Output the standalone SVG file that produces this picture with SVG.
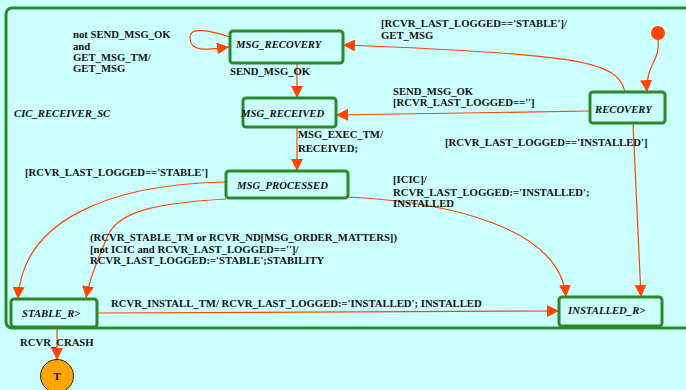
<svg xmlns="http://www.w3.org/2000/svg" width="686" height="390" viewBox="0 0 686 390">
<defs>
<style>
.bg{fill:#ccffff}
.frame{fill:none;stroke:#2a8a2a;stroke-width:3}
.st{fill:#ccffff;stroke:#2a8a2a;stroke-width:3}
.c{fill:none;stroke:#ff4500;stroke-width:1.2}
.t{font-family:"Liberation Serif","Times New Roman",serif;font-size:10.7px;font-weight:bold;fill:#111}
.n{font-family:"Liberation Serif","Times New Roman",serif;font-size:10.7px;font-weight:bold;font-style:italic;fill:#111}
</style>
<marker id="ah" markerWidth="12" markerHeight="12" refX="12" refY="6" orient="auto" markerUnits="userSpaceOnUse">
<path d="M0,0 L12,6 L0,12 z" fill="#ff4500"/>
</marker>
</defs>
<rect class="bg" x="0" y="0" width="686" height="390"/>
<rect class="frame" x="6" y="8" width="700" height="320" rx="6"/>
<text class="n" x="14" y="117">CIC_RECEIVER_SC</text>

<g id="connectors">
<path class="c" marker-end="url(#ah)" d="M230,37 C205,29 190,27 190,38 C190,52 205,50 229,47"/>
<path class="c" marker-end="url(#ah)" d="M297,63 L297,98"/>
<path class="c" marker-end="url(#ah)" d="M625,92 C618,62 585,54 343,45"/>
<path class="c" marker-end="url(#ah)" d="M590,111 L336,115"/>
<path class="c" marker-end="url(#ah)" d="M658,40 C661,60 645,66 647,92"/>
<path class="c" marker-end="url(#ah)" d="M633,123 L641,297"/>
<path class="c" marker-end="url(#ah)" d="M297,127 L297,171"/>
<path class="c" marker-end="url(#ah)" d="M226,182 C110,184 22,220 18,299"/>
<path class="c" marker-end="url(#ah)" d="M226,199 C160,203 120,210 108,235 C100,255 90,275 86,298"/>
<path class="c" marker-end="url(#ah)" d="M347,197 C450,202 560,228 566,297"/>
<path class="c" marker-end="url(#ah)" d="M97,313 L559,311"/>
<path class="c" marker-end="url(#ah)" d="M57,327 L57,360"/>
<text class="t" x="73" y="38">not SEND_MSG_OK</text>
<text class="t" x="73" y="50">and</text>
<text class="t" x="73" y="61">GET_MSG_TM/</text>
<text class="t" x="73" y="72">GET_MSG</text>
<text class="t" x="230" y="75">SEND_MSG_OK</text>
<text class="t" x="381" y="27">[RCVR_LAST_LOGGED=='STABLE']/</text>
<text class="t" x="381" y="39">GET_MSG</text>
<text class="t" x="393" y="95">SEND_MSG_OK</text>
<text class="t" x="393" y="106">[RCVR_LAST_LOGGED=='']</text>
<text class="t" x="445" y="146">[RCVR_LAST_LOGGED=='INSTALLED']</text>
<text class="t" x="298" y="138">MSG_EXEC_TM/</text>
<text class="t" x="298" y="152">RECEIVED;</text>
<text class="t" x="25" y="176">[RCVR_LAST_LOGGED=='STABLE']</text>
<text class="t" x="393" y="183">[ICIC]/</text>
<text class="t" x="393" y="196">RCVR_LAST_LOGGED:='INSTALLED';</text>
<text class="t" x="393" y="207">INSTALLED</text>
<text class="t" x="90" y="241">(RCVR_STABLE_TM or RCVR_ND[MSG_ORDER_MATTERS])</text>
<text class="t" x="90" y="253">[not ICIC and RCVR_LAST_LOGGED=='']/</text>
<text class="t" x="90" y="264">RCVR_LAST_LOGGED:='STABLE';STABILITY</text>
<text class="t" x="111" y="307">RCVR_INSTALL_TM/ RCVR_LAST_LOGGED:='INSTALLED'; INSTALLED</text>
<text class="t" x="20" y="346">RCVR_CRASH</text>
</g>

<g id="init"><circle cx="658" cy="33" r="7" fill="#ff4500"/></g>
<g id="MSG_RECOVERY"><rect class="st" x="230" y="31" width="113" height="32" rx="3"/><text class="n" x="236" y="48">MSG_RECOVERY</text></g>
<g id="MSG_RECEIVED"><rect class="st" x="243" y="98" width="93" height="29" rx="3"/><text class="n" x="241" y="117">MSG_RECEIVED</text></g>
<g id="RECOVERY"><rect class="st" x="590" y="92" width="75" height="31" rx="3"/><text class="n" x="595" y="113">RECOVERY</text></g>
<g id="MSG_PROCESSED"><rect class="st" x="226" y="171" width="122" height="27" rx="3"/><text class="n" x="237" y="189">MSG_PROCESSED</text></g>
<g id="STABLE_R"><rect class="st" x="11" y="299" width="86" height="28" rx="3"/><text class="n" x="22" y="317">STABLE_R&gt;</text></g>
<g id="INSTALLED_R"><rect class="st" x="559" y="297" width="103" height="29" rx="3"/><text class="n" x="568" y="314">INSTALLED_R&gt;</text></g>
<g id="final"><circle cx="57" cy="376" r="16.5" fill="#ffa500" stroke="#222" stroke-width="1"/><text class="t" x="57" y="380" text-anchor="middle">T</text></g>
</svg>
